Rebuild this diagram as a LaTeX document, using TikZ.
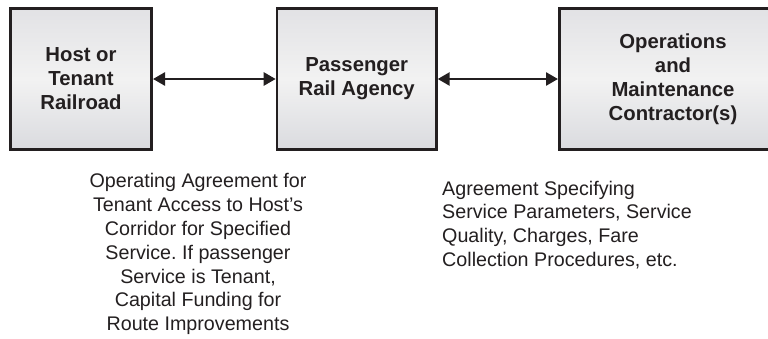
\documentclass[tikz,border=0pt]{standalone}
\usepackage{fontspec}
\setmainfont{Liberation Sans}
\usepackage{xcolor}
\usetikzlibrary{arrows.meta,positioning}
\frenchspacing

\definecolor{boxline}{HTML}{231F20}
\definecolor{boxtop}{HTML}{E2E2E5}
\definecolor{boxmid}{HTML}{F2F2F2}
\definecolor{boxbot}{HTML}{DADBDF}

\begin{document}
\begin{tikzpicture}[x=1pt,y=-1pt,
        party/.style={draw=boxline,line width=2.6pt,top color=boxtop,bottom color=boxbot,middle color=boxmid,
            minimum height=141pt,inner sep=0pt,align=center,text=boxline,
            font=\fontsize{20.3}{24}\selectfont\bfseries},
        deal/.style={draw=boxline,line width=2.6pt,
            {Triangle[length=12pt,width=13pt]}-{Triangle[length=12pt,width=13pt]}},
        note/.style={inner sep=0pt,text=boxline,font=\fontsize{19.7}{23.8}\selectfont}]
    \useasboundingbox (0,0) rectangle (768,338);
    \clip (0,0) rectangle (768,338);

    % the three parties
    \node[party,minimum width=141.4pt] (host) at (81,79) {Host or\\Tenant\\Railroad};
    \node[party,minimum width=159.4pt] (agency) at (356.7,79) {Passenger\\Rail Agency};
    \node[party,minimum width=227.4pt] (contractor) at (673,79) {Operations\\and\\Maintenance\\Contractor(s)};

    % agreements between them
    \draw[deal] (host.east) -- (agency.west);
    \draw[deal] (agency.east) -- (contractor.west);

    \node[note,anchor=north,align=center] (access) at (198,173.4)
        {Operating Agreement for\\Tenant Access to Host’s\\Corridor for Specified\\Service. If passenger\\Service is Tenant,\\Capital Funding for\\Route Improvements};
    \node[note,anchor=north west,align=left] (service) at (442,180.6)
        {Agreement Specifying\\Service Parameters, Service\\Quality, Charges, Fare\\Collection Procedures, etc.};
\end{tikzpicture}
\end{document}
